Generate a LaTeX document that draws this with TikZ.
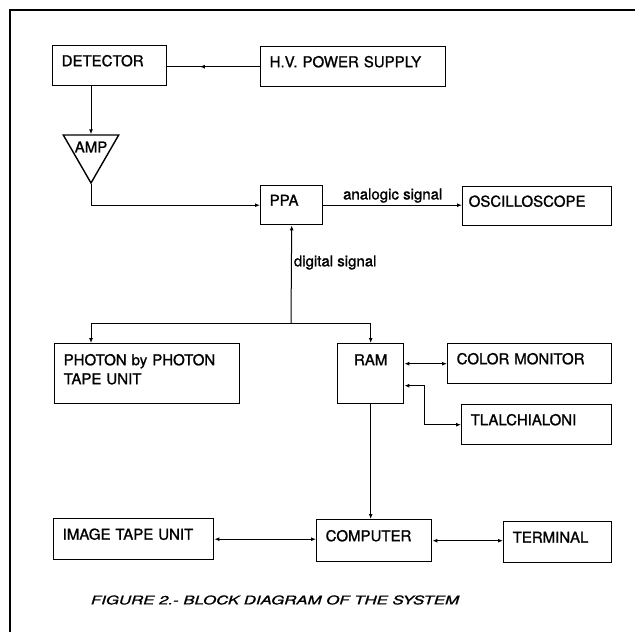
\documentclass[tikz,border=0pt]{standalone}
\usepackage{fontspec}
\setmainfont{TeX Gyre Heros}[FakeBold=1.2]
\newfontfamily\capfont[FakeStretch=1.4,FakeBold=1.2]{TeX Gyre Heros}
\usetikzlibrary{positioning,arrows.meta,shapes.geometric,decorations.markings}

\begin{document}
\begin{tikzpicture}[x=1pt,y=-1pt,
      >={Latex[length=5pt,width=4pt]},
      blk/.style={draw=black,line width=1.4pt,anchor=north west,align=left,
        inner xsep=9pt,inner ysep=0pt,text height=11pt,text depth=10pt,
        minimum height=40pt,font=\fontsize{15}{19}\selectfont},
      flow/.style={draw=black,line width=1pt,->},
      dflow/.style={draw=black,line width=1pt,<->},
      sig/.style={font=\fontsize{15}{18}\selectfont,inner sep=2pt},
      midarrow/.style={draw=black,line width=1pt,postaction={decorate},
        decoration={markings,mark=at position #1 with {\arrow{>}}}}
    ]
    \useasboundingbox (0,0) rectangle (635,632);
    \draw[line width=2.5pt] (640,10) -- (10,10) -- (10,640);
    % top row
    \node[blk,text width=96pt] (det) at (52,45) {DETECTOR};
    \node[blk,text width=167pt] (hv) at (260,46) {H.V. POWER SUPPLY};
    \node[draw=black,line width=1.4pt,regular polygon,regular polygon sides=3,
      shape border rotate=180,minimum size=64pt,inner sep=0pt,
      label={[font=\fontsize{15}{18}\selectfont,yshift=4pt]center:AMP}] (amp) at (91,151) {};
    % signal row
    \node[blk,text width=44pt,minimum height=39pt] (ppa) at (260,185) {PPA};
    \node[blk,text width=137pt,inner xsep=6pt,minimum height=39pt] (osc) at (462,186) {OSCILLOSCOPE};
    % storage and display
    \node[blk,text width=167pt,minimum height=60pt,text depth=28pt] (photon) at (54,343)
      {PHOTON by PHOTON\\TAPE UNIT};
    \node[blk,text width=48pt,minimum height=60pt,text depth=28pt,align=center] (ram) at (337,343) {RAM};
    \node[blk,text width=146pt] (colmon) at (447,343) {COLOR MONITOR};
    \node[blk,text width=132pt] (tlal) at (461,404) {TLALCHIALONI};
    % computer row
    \node[blk,text width=142pt,minimum height=41pt] (itu) at (53,518) {IMAGE TAPE UNIT};
    \node[blk,text width=97pt,minimum height=42pt] (comp) at (316,519) {COMPUTER};
    \node[blk,text width=90pt,minimum height=41pt] (term) at (503,521) {TERMINAL};
    \node[font=\capfont\itshape\fontsize{12}{14}\selectfont] (caption) at (275,600)
      {FIGURE 2.- BLOCK DIAGRAM OF THE SYSTEM};
    % connectors
    \draw[midarrow=0.65] (hv.west) -- (hv.west -| det.east);
    \draw[flow] (det.south -| amp.north) -- (amp.north);
    \draw[flow] (amp.south) |- (ppa.west);
    \draw[flow] (ppa.east) -- node[sig,above] (analog) {analogic signal} (ppa.east -| osc.west);
    \coordinate (jn) at (291,323);
    \draw[flow] (jn) -- node[sig,right,pos=0.62] (digital) {digital signal} (ppa.south);
    \draw[flow] (jn) -| (photon.north -| amp.south);
    \draw[flow] (jn) -| (ram.north);
    \draw[dflow] (colmon.west -| ram.east) -- (colmon.west);
    \draw[dflow] ([yshift=-12pt]ram.east) -- ++(20,0) |- (tlal.west);
    \draw[flow] (ram.south) -- (ram.south |- comp.north);
    \draw[dflow] (itu.east) -- (itu.east -| comp.west);
    \draw[dflow] (comp.east) -- (comp.east -| term.west);
  \end{tikzpicture}
\end{document}
